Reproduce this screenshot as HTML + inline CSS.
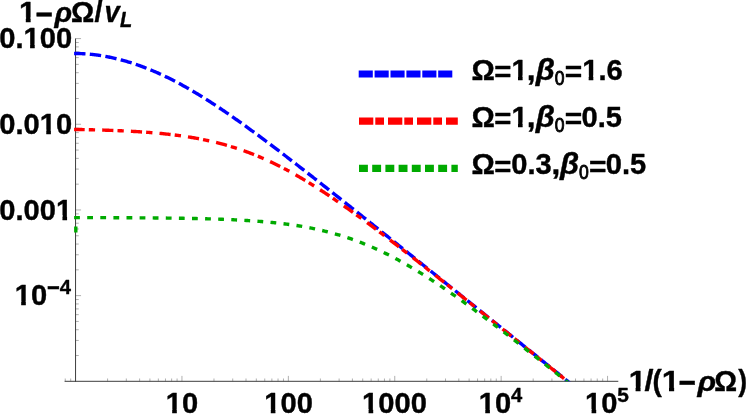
<!DOCTYPE html>
<html><head><meta charset="utf-8"><title>plot</title><style>html,body{margin:0;padding:0;background:#fff}body{width:747px;height:416px;overflow:hidden}</style></head><body>
<svg width="747" height="416" viewBox="0 0 747 416" style="display:block">
<rect width="747" height="416" fill="#fff"/>
<defs><clipPath id="pc"><rect x="60" y="30" width="560" height="351.30"/></clipPath></defs>
<g stroke="#7a7a7a" stroke-width="0.6" fill="none"><path d="M75.55 38.60 h5.50"/><path d="M75.55 124.28 h5.50"/><path d="M75.55 98.49 h3.20"/><path d="M75.55 83.40 h3.20"/><path d="M75.55 72.70 h3.20"/><path d="M75.55 64.39 h3.20"/><path d="M75.55 57.61 h3.20"/><path d="M75.55 51.87 h3.20"/><path d="M75.55 46.90 h3.20"/><path d="M75.55 42.52 h3.20"/><path d="M75.55 209.96 h5.50"/><path d="M75.55 184.17 h3.20"/><path d="M75.55 169.08 h3.20"/><path d="M75.55 158.38 h3.20"/><path d="M75.55 150.07 h3.20"/><path d="M75.55 143.29 h3.20"/><path d="M75.55 137.55 h3.20"/><path d="M75.55 132.58 h3.20"/><path d="M75.55 128.20 h3.20"/><path d="M75.55 295.64 h5.50"/><path d="M75.55 269.85 h3.20"/><path d="M75.55 254.76 h3.20"/><path d="M75.55 244.06 h3.20"/><path d="M75.55 235.75 h3.20"/><path d="M75.55 228.97 h3.20"/><path d="M75.55 223.23 h3.20"/><path d="M75.55 218.26 h3.20"/><path d="M75.55 213.88 h3.20"/><path d="M75.55 355.53 h3.20"/><path d="M75.55 340.44 h3.20"/><path d="M75.55 329.74 h3.20"/><path d="M75.55 321.43 h3.20"/><path d="M75.55 314.65 h3.20"/><path d="M75.55 308.91 h3.20"/><path d="M75.55 303.94 h3.20"/><path d="M75.55 299.56 h3.20"/><path d="M65.24 381.30 v-2.80"/><path d="M70.68 381.30 v-2.80"/><path d="M107.58 381.30 v-2.80"/><path d="M126.32 381.30 v-2.80"/><path d="M139.61 381.30 v-2.80"/><path d="M149.92 381.30 v-2.80"/><path d="M158.35 381.30 v-2.80"/><path d="M165.47 381.30 v-2.80"/><path d="M171.64 381.30 v-2.80"/><path d="M177.08 381.30 v-2.80"/><path d="M181.95 381.30 v-5.40"/><path d="M213.98 381.30 v-2.80"/><path d="M232.72 381.30 v-2.80"/><path d="M246.01 381.30 v-2.80"/><path d="M256.32 381.30 v-2.80"/><path d="M264.75 381.30 v-2.80"/><path d="M271.87 381.30 v-2.80"/><path d="M278.04 381.30 v-2.80"/><path d="M283.48 381.30 v-2.80"/><path d="M288.35 381.30 v-5.40"/><path d="M320.38 381.30 v-2.80"/><path d="M339.12 381.30 v-2.80"/><path d="M352.41 381.30 v-2.80"/><path d="M362.72 381.30 v-2.80"/><path d="M371.15 381.30 v-2.80"/><path d="M378.27 381.30 v-2.80"/><path d="M384.44 381.30 v-2.80"/><path d="M389.88 381.30 v-2.80"/><path d="M394.75 381.30 v-5.40"/><path d="M426.78 381.30 v-2.80"/><path d="M445.52 381.30 v-2.80"/><path d="M458.81 381.30 v-2.80"/><path d="M469.12 381.30 v-2.80"/><path d="M477.55 381.30 v-2.80"/><path d="M484.67 381.30 v-2.80"/><path d="M490.84 381.30 v-2.80"/><path d="M496.28 381.30 v-2.80"/><path d="M501.15 381.30 v-5.40"/><path d="M533.18 381.30 v-2.80"/><path d="M551.92 381.30 v-2.80"/><path d="M565.21 381.30 v-2.80"/><path d="M575.52 381.30 v-2.80"/><path d="M583.95 381.30 v-2.80"/><path d="M591.07 381.30 v-2.80"/><path d="M597.24 381.30 v-2.80"/><path d="M602.68 381.30 v-2.80"/><path d="M607.55 381.30 v-5.40"/></g>
<g stroke="#3d3d3d" stroke-width="1" fill="none"><path d="M75.55 38.50 V381.80"/><path d="M64.6 381.30 H618.3"/></g>
<g clip-path="url(#pc)" fill="none" stroke-linecap="square" stroke-width="3.40">
<path d="M75.80 53.49 L76.80 53.50 L77.80 53.51 L78.80 53.53 L79.80 53.56 L80.80 53.59 L81.79 53.63 L82.79 53.68 L83.79 53.73 L84.79 53.79 L85.79 53.86 L86.79 53.94 L87.79 54.02 L88.79 54.10 L89.79 54.20 L90.78 54.30 L91.78 54.40 L92.78 54.51 L93.78 54.63 L94.78 54.75 L95.78 54.88 L96.78 55.01 L97.78 55.15 L98.78 55.30 L99.78 55.45 L100.77 55.60 L101.77 55.76 L102.77 55.93 L103.77 56.10 L104.77 56.28 L105.77 56.46 L106.77 56.65 L107.77 56.84 L108.77 57.04 L109.77 57.25 L110.77 57.45 L111.76 57.67 L112.76 57.89 L113.76 58.11 L114.76 58.34 L115.76 58.58 L116.76 58.82 L117.76 59.06 L118.76 59.31 L119.76 59.56 L120.75 59.82 L121.75 60.09 L122.75 60.36 L123.75 60.63 L124.75 60.91 L125.75 61.20 L126.75 61.49 L127.75 61.79 L128.75 62.09 L129.75 62.39 L130.75 62.70 L131.74 63.02 L132.74 63.34 L133.74 63.66 L134.74 63.99 L135.74 64.33 L136.74 64.67 L137.74 65.01 L138.74 65.36 L139.74 65.72 L140.74 66.08 L141.73 66.44 L142.73 66.81 L143.73 67.19 L144.73 67.57 L145.73 67.95 L146.73 68.34 L147.73 68.73 L148.73 69.13 L149.73 69.54 L150.73 69.94 L151.72 70.36 L152.72 70.77 L153.72 71.20 L154.72 71.62 L155.72 72.06 L156.72 72.49 L157.72 72.93 L158.72 73.38 L159.72 73.83 L160.72 74.28 L161.71 74.74 L162.71 75.21 L163.71 75.68 L164.71 76.15 L165.71 76.63 L166.71 77.11 L167.71 77.59 L168.71 78.08 L169.71 78.58 L170.71 79.08 L171.70 79.58 L172.70 80.09 L173.70 80.60 L174.70 81.12 L175.70 81.64 L176.70 82.16 L177.70 82.69 L178.70 83.22 L179.70 83.76 L180.70 84.30 L181.69 84.84 L182.69 85.39 L183.69 85.94 L184.69 86.50 L185.69 87.06 L186.69 87.62 L187.69 88.19 L188.69 88.76 L189.69 89.33 L190.69 89.91 L191.68 90.49 L192.68 91.08 L193.68 91.67 L194.68 92.26 L195.68 92.86 L196.68 93.46 L197.68 94.06 L198.68 94.66 L199.68 95.27 L200.68 95.89 L201.67 96.50 L202.67 97.12 L203.67 97.74 L204.67 98.37 L205.67 98.99 L206.67 99.62 L207.67 100.26 L208.67 100.89 L209.67 101.53 L210.66 102.18 L211.66 102.82 L212.66 103.47 L213.66 104.12 L214.66 104.77 L215.66 105.43 L216.66 106.09 L217.66 106.75 L218.66 107.41 L219.66 108.08 L220.66 108.75 L221.65 109.42 L222.65 110.09 L223.65 110.77 L224.65 111.45 L225.65 112.13 L226.65 112.81 L227.65 113.50 L228.65 114.18 L229.65 114.87 L230.64 115.56 L231.64 116.26 L232.64 116.95 L233.64 117.65 L234.64 118.35 L235.64 119.05 L236.64 119.75 L237.64 120.46 L238.64 121.17 L239.64 121.88 L240.64 122.59 L241.63 123.30 L242.63 124.01 L243.63 124.73 L244.63 125.45 L245.63 126.17 L246.63 126.89 L247.63 127.61 L248.63 128.33 L249.63 129.06 L250.62 129.79 L251.62 130.52 L252.62 131.25 L253.62 131.98 L254.62 132.71 L255.62 133.45 L256.62 134.18 L257.62 134.92 L258.62 135.66 L259.62 136.40 L260.62 137.14 L261.61 137.88 L262.61 138.62 L263.61 139.37 L264.61 140.11 L265.61 140.86 L266.61 141.61 L267.61 142.36 L268.61 143.11 L269.61 143.86 L270.60 144.61 L271.60 145.36 L272.60 146.12 L273.60 146.87 L274.60 147.63 L275.60 148.39 L276.60 149.14 L277.60 149.90 L278.60 150.66 L279.60 151.42 L280.59 152.19 L281.59 152.95 L282.59 153.71 L283.59 154.48 L284.59 155.24 L285.59 156.01 L286.59 156.77 L287.59 157.54 L288.59 158.31 L289.59 159.08 L290.58 159.85 L291.58 160.62 L292.58 161.39 L293.58 162.16 L294.58 162.93 L295.58 163.70 L296.58 164.48 L297.58 165.25 L298.58 166.03 L299.58 166.80 L300.57 167.58 L301.57 168.35 L302.57 169.13 L303.57 169.91 L304.57 170.69 L305.57 171.47 L306.57 172.25 L307.57 173.03 L308.57 173.81 L309.57 174.59 L310.57 175.37 L311.56 176.15 L312.56 176.94 L313.56 177.72 L314.56 178.50 L315.56 179.29 L316.56 180.07 L317.56 180.85 L318.56 181.64 L319.56 182.42 L320.56 183.21 L321.55 184.00 L322.55 184.78 L323.55 185.57 L324.55 186.36 L325.55 187.15 L326.55 187.93 L327.55 188.72 L328.55 189.51 L329.55 190.30 L330.55 191.09 L331.54 191.88 L332.54 192.67 L333.54 193.46 L334.54 194.25 L335.54 195.04 L336.54 195.83 L337.54 196.62 L338.54 197.41 L339.54 198.20 L340.54 199.00 L341.53 199.79 L342.53 200.58 L343.53 201.37 L344.53 202.17 L345.53 202.96 L346.53 203.75 L347.53 204.55 L348.53 205.34 L349.53 206.14 L350.53 206.93 L351.52 207.72 L352.52 208.52 L353.52 209.31 L354.52 210.11 L355.52 210.90 L356.52 211.70 L357.52 212.49 L358.52 213.29 L359.52 214.09 L360.51 214.88 L361.51 215.68 L362.51 216.48 L363.51 217.27 L364.51 218.07 L365.51 218.87 L366.51 219.66 L367.51 220.46 L368.51 221.26 L369.51 222.05 L370.50 222.85 L371.50 223.65 L372.50 224.45 L373.50 225.25 L374.50 226.04 L375.50 226.84 L376.50 227.64 L377.50 228.44 L378.50 229.24 L379.50 230.04 L380.50 230.84 L381.49 231.63 L382.49 232.43 L383.49 233.23 L384.49 234.03 L385.49 234.83 L386.49 235.63 L387.49 236.43 L388.49 237.23 L389.49 238.03 L390.49 238.83 L391.48 239.63 L392.48 240.43 L393.48 241.23 L394.48 242.03 L395.48 242.83 L396.48 243.63 L397.48 244.43 L398.48 245.23 L399.48 246.03 L400.48 246.83 L401.47 247.63 L402.47 248.43 L403.47 249.23 L404.47 250.03 L405.47 250.83 L406.47 251.64 L407.47 252.44 L408.47 253.24 L409.47 254.04 L410.46 254.84 L411.46 255.64 L412.46 256.44 L413.46 257.24 L414.46 258.05 L415.46 258.85 L416.46 259.65 L417.46 260.45 L418.46 261.25 L419.46 262.05 L420.45 262.85 L421.45 263.66 L422.45 264.46 L423.45 265.26 L424.45 266.06 L425.45 266.86 L426.45 267.67 L427.45 268.47 L428.45 269.27 L429.45 270.07 L430.44 270.87 L431.44 271.68 L432.44 272.48 L433.44 273.28 L434.44 274.08 L435.44 274.88 L436.44 275.69 L437.44 276.49 L438.44 277.29 L439.44 278.09 L440.44 278.90 L441.43 279.70 L442.43 280.50 L443.43 281.30 L444.43 282.11 L445.43 282.91 L446.43 283.71 L447.43 284.51 L448.43 285.32 L449.43 286.12 L450.42 286.92 L451.42 287.73 L452.42 288.53 L453.42 289.33 L454.42 290.13 L455.42 290.94 L456.42 291.74 L457.42 292.54 L458.42 293.34 L459.42 294.15 L460.41 294.95 L461.41 295.75 L462.41 296.56 L463.41 297.36 L464.41 298.16 L465.41 298.97 L466.41 299.77 L467.41 300.57 L468.41 301.37 L469.41 302.18 L470.40 302.98 L471.40 303.78 L472.40 304.59 L473.40 305.39 L474.40 306.19 L475.40 307.00 L476.40 307.80 L477.40 308.60 L478.40 309.41 L479.40 310.21 L480.39 311.01 L481.39 311.82 L482.39 312.62 L483.39 313.42 L484.39 314.23 L485.39 315.03 L486.39 315.83 L487.39 316.64 L488.39 317.44 L489.39 318.24 L490.38 319.05 L491.38 319.85 L492.38 320.65 L493.38 321.46 L494.38 322.26 L495.38 323.06 L496.38 323.87 L497.38 324.67 L498.38 325.47 L499.38 326.28 L500.38 327.08 L501.37 327.88 L502.37 328.69 L503.37 329.49 L504.37 330.29 L505.37 331.10 L506.37 331.90 L507.37 332.70 L508.37 333.51 L509.37 334.31 L510.37 335.11 L511.36 335.92 L512.36 336.72 L513.36 337.52 L514.36 338.33 L515.36 339.13 L516.36 339.94 L517.36 340.74 L518.36 341.54 L519.36 342.35 L520.35 343.15 L521.35 343.95 L522.35 344.76 L523.35 345.56 L524.35 346.36 L525.35 347.17 L526.35 347.97 L527.35 348.77 L528.35 349.58 L529.35 350.38 L530.34 351.19 L531.34 351.99 L532.34 352.79 L533.34 353.60 L534.34 354.40 L535.34 355.20 L536.34 356.01 L537.34 356.81 L538.34 357.61 L539.34 358.42 L540.33 359.22 L541.33 360.03 L542.33 360.83 L543.33 361.63 L544.33 362.44 L545.33 363.24 L546.33 364.04 L547.33 364.85 L548.33 365.65 L549.33 366.45 L550.33 367.26 L551.32 368.06 L552.32 368.87 L553.32 369.67 L554.32 370.47 L555.32 371.28 L556.32 372.08 L557.32 372.88 L558.32 373.69 L559.32 374.49 L560.32 375.29 L561.31 376.10 L562.31 376.90 L563.31 377.71 L564.31 378.51 L565.31 379.31 L566.31 380.12 L567.31 380.92 L568.31 381.72 L569.31 382.53 L570.30 383.33 L571.30 384.14 L572.30 384.94 L573.30 385.74 L574.30 386.55 L575.30 387.35" stroke="#0000ff" stroke-dasharray="8.0 7.72"/>
<path d="M75.80 129.46 L76.80 129.47 L77.80 129.49 L78.80 129.51 L79.80 129.53 L80.80 129.55 L81.79 129.57 L82.79 129.59 L83.79 129.61 L84.79 129.64 L85.79 129.66 L86.79 129.68 L87.79 129.70 L88.79 129.73 L89.79 129.75 L90.78 129.77 L91.78 129.80 L92.78 129.82 L93.78 129.85 L94.78 129.88 L95.78 129.90 L96.78 129.93 L97.78 129.96 L98.78 129.98 L99.78 130.01 L100.77 130.04 L101.77 130.07 L102.77 130.10 L103.77 130.13 L104.77 130.17 L105.77 130.20 L106.77 130.23 L107.77 130.27 L108.77 130.30 L109.77 130.34 L110.77 130.37 L111.76 130.41 L112.76 130.45 L113.76 130.48 L114.76 130.52 L115.76 130.56 L116.76 130.60 L117.76 130.64 L118.76 130.69 L119.76 130.73 L120.75 130.77 L121.75 130.82 L122.75 130.86 L123.75 130.91 L124.75 130.96 L125.75 131.01 L126.75 131.06 L127.75 131.11 L128.75 131.16 L129.75 131.21 L130.75 131.26 L131.74 131.32 L132.74 131.37 L133.74 131.43 L134.74 131.49 L135.74 131.55 L136.74 131.61 L137.74 131.67 L138.74 131.73 L139.74 131.79 L140.74 131.86 L141.73 131.93 L142.73 131.99 L143.73 132.06 L144.73 132.13 L145.73 132.20 L146.73 132.28 L147.73 132.35 L148.73 132.43 L149.73 132.50 L150.73 132.58 L151.72 132.66 L152.72 132.75 L153.72 132.83 L154.72 132.91 L155.72 133.00 L156.72 133.09 L157.72 133.18 L158.72 133.27 L159.72 133.36 L160.72 133.46 L161.71 133.56 L162.71 133.66 L163.71 133.76 L164.71 133.86 L165.71 133.96 L166.71 134.07 L167.71 134.18 L168.71 134.29 L169.71 134.40 L170.71 134.52 L171.70 134.63 L172.70 134.75 L173.70 134.87 L174.70 134.99 L175.70 135.12 L176.70 135.25 L177.70 135.38 L178.70 135.51 L179.70 135.64 L180.70 135.78 L181.69 135.92 L182.69 136.06 L183.69 136.21 L184.69 136.35 L185.69 136.50 L186.69 136.65 L187.69 136.81 L188.69 136.97 L189.69 137.13 L190.69 137.29 L191.68 137.46 L192.68 137.62 L193.68 137.79 L194.68 137.97 L195.68 138.15 L196.68 138.33 L197.68 138.51 L198.68 138.69 L199.68 138.88 L200.68 139.08 L201.67 139.27 L202.67 139.47 L203.67 139.67 L204.67 139.88 L205.67 140.08 L206.67 140.30 L207.67 140.51 L208.67 140.73 L209.67 140.95 L210.66 141.17 L211.66 141.40 L212.66 141.63 L213.66 141.87 L214.66 142.11 L215.66 142.35 L216.66 142.60 L217.66 142.85 L218.66 143.10 L219.66 143.36 L220.66 143.62 L221.65 143.88 L222.65 144.15 L223.65 144.42 L224.65 144.70 L225.65 144.98 L226.65 145.26 L227.65 145.55 L228.65 145.84 L229.65 146.14 L230.64 146.44 L231.64 146.74 L232.64 147.05 L233.64 147.36 L234.64 147.67 L235.64 147.99 L236.64 148.32 L237.64 148.65 L238.64 148.98 L239.64 149.31 L240.64 149.65 L241.63 150.00 L242.63 150.35 L243.63 150.70 L244.63 151.06 L245.63 151.42 L246.63 151.78 L247.63 152.15 L248.63 152.53 L249.63 152.91 L250.62 153.29 L251.62 153.68 L252.62 154.07 L253.62 154.46 L254.62 154.86 L255.62 155.27 L256.62 155.67 L257.62 156.09 L258.62 156.50 L259.62 156.92 L260.62 157.35 L261.61 157.78 L262.61 158.21 L263.61 158.65 L264.61 159.09 L265.61 159.54 L266.61 159.99 L267.61 160.44 L268.61 160.90 L269.61 161.37 L270.60 161.83 L271.60 162.31 L272.60 162.78 L273.60 163.26 L274.60 163.75 L275.60 164.23 L276.60 164.73 L277.60 165.22 L278.60 165.72 L279.60 166.23 L280.59 166.73 L281.59 167.25 L282.59 167.76 L283.59 168.28 L284.59 168.80 L285.59 169.33 L286.59 169.86 L287.59 170.40 L288.59 170.94 L289.59 171.48 L290.58 172.03 L291.58 172.58 L292.58 173.13 L293.58 173.69 L294.58 174.25 L295.58 174.81 L296.58 175.38 L297.58 175.95 L298.58 176.53 L299.58 177.11 L300.57 177.69 L301.57 178.28 L302.57 178.88 L303.57 179.47 L304.57 180.07 L305.57 180.67 L306.57 181.28 L307.57 181.89 L308.57 182.50 L309.57 183.11 L310.57 183.73 L311.56 184.35 L312.56 184.98 L313.56 185.61 L314.56 186.24 L315.56 186.87 L316.56 187.51 L317.56 188.15 L318.56 188.79 L319.56 189.43 L320.56 190.08 L321.55 190.73 L322.55 191.38 L323.55 192.04 L324.55 192.69 L325.55 193.35 L326.55 194.02 L327.55 194.68 L328.55 195.35 L329.55 196.02 L330.55 196.69 L331.54 197.37 L332.54 198.05 L333.54 198.73 L334.54 199.41 L335.54 200.09 L336.54 200.78 L337.54 201.47 L338.54 202.16 L339.54 202.85 L340.54 203.55 L341.53 204.24 L342.53 204.94 L343.53 205.64 L344.53 206.35 L345.53 207.05 L346.53 207.76 L347.53 208.47 L348.53 209.18 L349.53 209.89 L350.53 210.60 L351.52 211.32 L352.52 212.04 L353.52 212.75 L354.52 213.47 L355.52 214.20 L356.52 214.92 L357.52 215.65 L358.52 216.37 L359.52 217.10 L360.51 217.83 L361.51 218.56 L362.51 219.30 L363.51 220.03 L364.51 220.77 L365.51 221.50 L366.51 222.24 L367.51 222.98 L368.51 223.72 L369.51 224.46 L370.50 225.21 L371.50 225.95 L372.50 226.70 L373.50 227.45 L374.50 228.19 L375.50 228.94 L376.50 229.70 L377.50 230.45 L378.50 231.20 L379.50 231.95 L380.50 232.71 L381.49 233.46 L382.49 234.22 L383.49 234.98 L384.49 235.74 L385.49 236.50 L386.49 237.26 L387.49 238.02 L388.49 238.78 L389.49 239.55 L390.49 240.31 L391.48 241.08 L392.48 241.84 L393.48 242.61 L394.48 243.38 L395.48 244.15 L396.48 244.92 L397.48 245.69 L398.48 246.46 L399.48 247.23 L400.48 248.00 L401.47 248.77 L402.47 249.55 L403.47 250.32 L404.47 251.10 L405.47 251.87 L406.47 252.65 L407.47 253.42 L408.47 254.20 L409.47 254.98 L410.46 255.76 L411.46 256.54 L412.46 257.32 L413.46 258.10 L414.46 258.88 L415.46 259.66 L416.46 260.44 L417.46 261.22 L418.46 262.01 L419.46 262.79 L420.45 263.57 L421.45 264.36 L422.45 265.14 L423.45 265.93 L424.45 266.71 L425.45 267.50 L426.45 268.29 L427.45 269.07 L428.45 269.86 L429.45 270.65 L430.44 271.44 L431.44 272.23 L432.44 273.02 L433.44 273.81 L434.44 274.59 L435.44 275.38 L436.44 276.18 L437.44 276.97 L438.44 277.76 L439.44 278.55 L440.44 279.34 L441.43 280.13 L442.43 280.92 L443.43 281.72 L444.43 282.51 L445.43 283.30 L446.43 284.10 L447.43 284.89 L448.43 285.69 L449.43 286.48 L450.42 287.27 L451.42 288.07 L452.42 288.86 L453.42 289.66 L454.42 290.46 L455.42 291.25 L456.42 292.05 L457.42 292.84 L458.42 293.64 L459.42 294.44 L460.41 295.23 L461.41 296.03 L462.41 296.83 L463.41 297.63 L464.41 298.42 L465.41 299.22 L466.41 300.02 L467.41 300.82 L468.41 301.62 L469.41 302.42 L470.40 303.21 L471.40 304.01 L472.40 304.81 L473.40 305.61 L474.40 306.41 L475.40 307.21 L476.40 308.01 L477.40 308.81 L478.40 309.61 L479.40 310.41 L480.39 311.21 L481.39 312.01 L482.39 312.81 L483.39 313.61 L484.39 314.42 L485.39 315.22 L486.39 316.02 L487.39 316.82 L488.39 317.62 L489.39 318.42 L490.38 319.22 L491.38 320.03 L492.38 320.83 L493.38 321.63 L494.38 322.43 L495.38 323.23 L496.38 324.04 L497.38 324.84 L498.38 325.64 L499.38 326.44 L500.38 327.25 L501.37 328.05 L502.37 328.85 L503.37 329.65 L504.37 330.46 L505.37 331.26 L506.37 332.06 L507.37 332.87 L508.37 333.67 L509.37 334.47 L510.37 335.28 L511.36 336.08 L512.36 336.88 L513.36 337.69 L514.36 338.49 L515.36 339.30 L516.36 340.10 L517.36 340.90 L518.36 341.71 L519.36 342.51 L520.35 343.32 L521.35 344.12 L522.35 344.93 L523.35 345.73 L524.35 346.53 L525.35 347.34 L526.35 348.14 L527.35 348.95 L528.35 349.75 L529.35 350.56 L530.34 351.36 L531.34 352.17 L532.34 352.97 L533.34 353.78 L534.34 354.58 L535.34 355.39 L536.34 356.19 L537.34 357.00 L538.34 357.80 L539.34 358.61 L540.33 359.41 L541.33 360.22 L542.33 361.02 L543.33 361.83 L544.33 362.63 L545.33 363.44 L546.33 364.24 L547.33 365.05 L548.33 365.85 L549.33 366.66 L550.33 367.46 L551.32 368.27 L552.32 369.08 L553.32 369.88 L554.32 370.69 L555.32 371.49 L556.32 372.30 L557.32 373.10 L558.32 373.91 L559.32 374.72 L560.32 375.52 L561.31 376.33 L562.31 377.13 L563.31 377.94 L564.31 378.74 L565.31 379.55 L566.31 380.36 L567.31 381.16 L568.31 381.97 L569.31 382.77 L570.30 383.58 L571.30 384.39 L572.30 385.19 L573.30 386.00 L574.30 386.81 L575.30 387.61" stroke="#ff0000" stroke-dasharray="7.8 7.5 2.9 10.5" stroke-dashoffset="0.6"/>
<path d="M75.80 230.68 L75.80 217.58 L76.80 217.58 L77.80 217.58 L78.80 217.58 L79.80 217.58 L80.80 217.59 L81.79 217.59 L82.79 217.59 L83.79 217.59 L84.79 217.60 L85.79 217.60 L86.79 217.60 L87.79 217.60 L88.79 217.60 L89.79 217.61 L90.78 217.61 L91.78 217.61 L92.78 217.61 L93.78 217.62 L94.78 217.62 L95.78 217.62 L96.78 217.63 L97.78 217.63 L98.78 217.63 L99.78 217.63 L100.77 217.64 L101.77 217.64 L102.77 217.64 L103.77 217.65 L104.77 217.65 L105.77 217.65 L106.77 217.66 L107.77 217.66 L108.77 217.66 L109.77 217.67 L110.77 217.67 L111.76 217.67 L112.76 217.68 L113.76 217.68 L114.76 217.69 L115.76 217.69 L116.76 217.69 L117.76 217.70 L118.76 217.70 L119.76 217.71 L120.75 217.71 L121.75 217.72 L122.75 217.72 L123.75 217.73 L124.75 217.73 L125.75 217.74 L126.75 217.74 L127.75 217.75 L128.75 217.75 L129.75 217.76 L130.75 217.76 L131.74 217.77 L132.74 217.77 L133.74 217.78 L134.74 217.79 L135.74 217.79 L136.74 217.80 L137.74 217.81 L138.74 217.81 L139.74 217.82 L140.74 217.83 L141.73 217.83 L142.73 217.84 L143.73 217.85 L144.73 217.85 L145.73 217.86 L146.73 217.87 L147.73 217.88 L148.73 217.89 L149.73 217.89 L150.73 217.90 L151.72 217.91 L152.72 217.92 L153.72 217.93 L154.72 217.94 L155.72 217.95 L156.72 217.96 L157.72 217.97 L158.72 217.98 L159.72 217.99 L160.72 218.00 L161.71 218.01 L162.71 218.02 L163.71 218.03 L164.71 218.04 L165.71 218.05 L166.71 218.07 L167.71 218.08 L168.71 218.09 L169.71 218.10 L170.71 218.12 L171.70 218.13 L172.70 218.14 L173.70 218.16 L174.70 218.17 L175.70 218.18 L176.70 218.20 L177.70 218.21 L178.70 218.23 L179.70 218.24 L180.70 218.26 L181.69 218.28 L182.69 218.29 L183.69 218.31 L184.69 218.33 L185.69 218.34 L186.69 218.36 L187.69 218.38 L188.69 218.40 L189.69 218.42 L190.69 218.44 L191.68 218.46 L192.68 218.48 L193.68 218.50 L194.68 218.52 L195.68 218.54 L196.68 218.56 L197.68 218.59 L198.68 218.61 L199.68 218.63 L200.68 218.66 L201.67 218.68 L202.67 218.70 L203.67 218.73 L204.67 218.76 L205.67 218.78 L206.67 218.81 L207.67 218.84 L208.67 218.87 L209.67 218.89 L210.66 218.92 L211.66 218.95 L212.66 218.98 L213.66 219.01 L214.66 219.05 L215.66 219.08 L216.66 219.11 L217.66 219.15 L218.66 219.18 L219.66 219.22 L220.66 219.25 L221.65 219.29 L222.65 219.33 L223.65 219.36 L224.65 219.40 L225.65 219.44 L226.65 219.48 L227.65 219.52 L228.65 219.57 L229.65 219.61 L230.64 219.65 L231.64 219.70 L232.64 219.74 L233.64 219.79 L234.64 219.84 L235.64 219.89 L236.64 219.94 L237.64 219.99 L238.64 220.04 L239.64 220.09 L240.64 220.14 L241.63 220.20 L242.63 220.25 L243.63 220.31 L244.63 220.37 L245.63 220.43 L246.63 220.49 L247.63 220.55 L248.63 220.61 L249.63 220.67 L250.62 220.74 L251.62 220.81 L252.62 220.87 L253.62 220.94 L254.62 221.01 L255.62 221.09 L256.62 221.16 L257.62 221.23 L258.62 221.31 L259.62 221.39 L260.62 221.46 L261.61 221.55 L262.61 221.63 L263.61 221.71 L264.61 221.80 L265.61 221.88 L266.61 221.97 L267.61 222.06 L268.61 222.15 L269.61 222.25 L270.60 222.34 L271.60 222.44 L272.60 222.54 L273.60 222.64 L274.60 222.74 L275.60 222.85 L276.60 222.95 L277.60 223.06 L278.60 223.17 L279.60 223.28 L280.59 223.40 L281.59 223.51 L282.59 223.63 L283.59 223.75 L284.59 223.88 L285.59 224.00 L286.59 224.13 L287.59 224.26 L288.59 224.39 L289.59 224.53 L290.58 224.66 L291.58 224.80 L292.58 224.94 L293.58 225.09 L294.58 225.24 L295.58 225.39 L296.58 225.54 L297.58 225.69 L298.58 225.85 L299.58 226.01 L300.57 226.17 L301.57 226.34 L302.57 226.52 L303.57 226.69 L304.57 226.87 L305.57 227.05 L306.57 227.23 L307.57 227.42 L308.57 227.61 L309.57 227.80 L310.57 228.00 L311.56 228.20 L312.56 228.40 L313.56 228.61 L314.56 228.81 L315.56 229.03 L316.56 229.24 L317.56 229.46 L318.56 229.68 L319.56 229.91 L320.56 230.13 L321.55 230.37 L322.55 230.60 L323.55 230.84 L324.55 231.08 L325.55 231.33 L326.55 231.58 L327.55 231.83 L328.55 232.09 L329.55 232.35 L330.55 232.61 L331.54 232.88 L332.54 233.15 L333.54 233.43 L334.54 233.71 L335.54 233.99 L336.54 234.28 L337.54 234.57 L338.54 234.86 L339.54 235.16 L340.54 235.47 L341.53 235.77 L342.53 236.08 L343.53 236.40 L344.53 236.72 L345.53 237.04 L346.53 237.37 L347.53 237.70 L348.53 238.03 L349.53 238.37 L350.53 238.72 L351.52 239.06 L352.52 239.41 L353.52 239.77 L354.52 240.13 L355.52 240.49 L356.52 240.86 L357.52 241.24 L358.52 241.61 L359.52 241.99 L360.51 242.38 L361.51 242.77 L362.51 243.16 L363.51 243.56 L364.51 243.96 L365.51 244.37 L366.51 244.78 L367.51 245.20 L368.51 245.62 L369.51 246.04 L370.50 246.47 L371.50 246.90 L372.50 247.33 L373.50 247.78 L374.50 248.22 L375.50 248.67 L376.50 249.12 L377.50 249.58 L378.50 250.04 L379.50 250.51 L380.50 250.98 L381.49 251.45 L382.49 251.93 L383.49 252.41 L384.49 252.90 L385.49 253.39 L386.49 253.88 L387.49 254.38 L388.49 254.88 L389.49 255.39 L390.49 255.90 L391.48 256.41 L392.48 256.93 L393.48 257.45 L394.48 257.98 L395.48 258.51 L396.48 259.04 L397.48 259.58 L398.48 260.12 L399.48 260.67 L400.48 261.22 L401.47 261.77 L402.47 262.32 L403.47 262.88 L404.47 263.45 L405.47 264.01 L406.47 264.58 L407.47 265.16 L408.47 265.74 L409.47 266.32 L410.46 266.90 L411.46 267.49 L412.46 268.08 L413.46 268.67 L414.46 269.27 L415.46 269.87 L416.46 270.48 L417.46 271.09 L418.46 271.70 L419.46 272.31 L420.45 272.93 L421.45 273.55 L422.45 274.17 L423.45 274.80 L424.45 275.42 L425.45 276.06 L426.45 276.69 L427.45 277.33 L428.45 277.97 L429.45 278.61 L430.44 279.26 L431.44 279.91 L432.44 280.56 L433.44 281.21 L434.44 281.87 L435.44 282.53 L436.44 283.19 L437.44 283.85 L438.44 284.52 L439.44 285.19 L440.44 285.86 L441.43 286.53 L442.43 287.21 L443.43 287.89 L444.43 288.57 L445.43 289.25 L446.43 289.94 L447.43 290.62 L448.43 291.31 L449.43 292.00 L450.42 292.70 L451.42 293.39 L452.42 294.09 L453.42 294.79 L454.42 295.49 L455.42 296.20 L456.42 296.90 L457.42 297.61 L458.42 298.32 L459.42 299.03 L460.41 299.74 L461.41 300.46 L462.41 301.17 L463.41 301.89 L464.41 302.61 L465.41 303.33 L466.41 304.06 L467.41 304.78 L468.41 305.51 L469.41 306.23 L470.40 306.96 L471.40 307.69 L472.40 308.43 L473.40 309.16 L474.40 309.89 L475.40 310.63 L476.40 311.37 L477.40 312.11 L478.40 312.85 L479.40 313.59 L480.39 314.33 L481.39 315.08 L482.39 315.82 L483.39 316.57 L484.39 317.31 L485.39 318.06 L486.39 318.81 L487.39 319.56 L488.39 320.32 L489.39 321.07 L490.38 321.82 L491.38 322.58 L492.38 323.34 L493.38 324.09 L494.38 324.85 L495.38 325.61 L496.38 326.37 L497.38 327.13 L498.38 327.90 L499.38 328.66 L500.38 329.42 L501.37 330.19 L502.37 330.95 L503.37 331.72 L504.37 332.49 L505.37 333.25 L506.37 334.02 L507.37 334.79 L508.37 335.56 L509.37 336.33 L510.37 337.11 L511.36 337.88 L512.36 338.65 L513.36 339.43 L514.36 340.20 L515.36 340.98 L516.36 341.75 L517.36 342.53 L518.36 343.30 L519.36 344.08 L520.35 344.86 L521.35 345.64 L522.35 346.42 L523.35 347.20 L524.35 347.98 L525.35 348.76 L526.35 349.54 L527.35 350.33 L528.35 351.11 L529.35 351.89 L530.34 352.67 L531.34 353.46 L532.34 354.24 L533.34 355.03 L534.34 355.81 L535.34 356.60 L536.34 357.39 L537.34 358.17 L538.34 358.96 L539.34 359.75 L540.33 360.54 L541.33 361.33 L542.33 362.11 L543.33 362.90 L544.33 363.69 L545.33 364.48 L546.33 365.27 L547.33 366.06 L548.33 366.86 L549.33 367.65 L550.33 368.44 L551.32 369.23 L552.32 370.02 L553.32 370.82 L554.32 371.61 L555.32 372.40 L556.32 373.20 L557.32 373.99 L558.32 374.78 L559.32 375.58 L560.32 376.37 L561.31 377.17 L562.31 377.96 L563.31 378.76 L564.31 379.55 L565.31 380.35 L566.31 381.15 L567.31 381.94 L568.31 382.74 L569.31 383.54 L570.30 384.33 L571.30 385.13 L572.30 385.93 L573.30 386.73 L574.30 387.52 L575.30 388.32" stroke="#00aa00" stroke-dasharray="2.4 10.7"/>
</g>
<g fill="none" stroke-width="7.2">
<path d="M358.7 74 H452.4" stroke="#0000ff" stroke-dasharray="14.1 1.8"/>
<path d="M359 121.2 H457.8" stroke="#ff0000" stroke-dasharray="14.3 2 8.7 4"/>
<path d="M359 168.4 H457.8" stroke="#00aa00" stroke-dasharray="8.9 4.3"/>
</g>
<defs><clipPath id="c1"><rect x="-2" y="-24" width="22" height="19.730"/><rect x="6.492" y="-24" width="4.593" height="26"/></clipPath></defs>
<g font-family="'Liberation Sans', sans-serif" fill="#000" stroke="#000" stroke-width="0.4" stroke-linejoin="round" style="opacity:0.999">
<text transform="matrix(1.0000 0 0 1.0300 -0.65 48.20)" font-size="29.10" font-weight="bold">0</text>
<text transform="matrix(1.0000 0 0 1.0300 15.53 48.20)" font-size="29.10" font-weight="bold">.</text>
<text transform="matrix(1.0000 0 0 1.0300 23.62 48.20)" font-size="29.10" font-weight="bold" clip-path="url(#c1)">1</text>
<text transform="matrix(1.0000 0 0 1.0300 39.80 48.20)" font-size="29.10" font-weight="bold">0</text>
<text transform="matrix(1.0000 0 0 1.0300 55.99 48.20)" font-size="29.10" font-weight="bold">0</text>
<text transform="matrix(1.0000 0 0 1.0300 -0.65 134.00)" font-size="29.10" font-weight="bold">0</text>
<text transform="matrix(1.0000 0 0 1.0300 15.53 134.00)" font-size="29.10" font-weight="bold">.</text>
<text transform="matrix(1.0000 0 0 1.0300 23.62 134.00)" font-size="29.10" font-weight="bold">0</text>
<text transform="matrix(1.0000 0 0 1.0300 39.80 134.00)" font-size="29.10" font-weight="bold" clip-path="url(#c1)">1</text>
<text transform="matrix(1.0000 0 0 1.0300 55.99 134.00)" font-size="29.10" font-weight="bold">0</text>
<text transform="matrix(1.0000 0 0 1.0300 -0.65 219.50)" font-size="29.10" font-weight="bold">0</text>
<text transform="matrix(1.0000 0 0 1.0300 15.53 219.50)" font-size="29.10" font-weight="bold">.</text>
<text transform="matrix(1.0000 0 0 1.0300 23.62 219.50)" font-size="29.10" font-weight="bold">0</text>
<text transform="matrix(1.0000 0 0 1.0300 39.80 219.50)" font-size="29.10" font-weight="bold">0</text>
<text transform="matrix(1.0000 0 0 1.0300 55.99 219.50)" font-size="29.10" font-weight="bold" clip-path="url(#c1)">1</text>
<text transform="matrix(1.0000 0 0 1.0300 14.71 305.40)" font-size="29.10" font-weight="bold" clip-path="url(#c1)">1</text>
<text transform="matrix(1.0000 0 0 1.0300 30.89 305.40)" font-size="29.10" font-weight="bold">0</text>
<text transform="matrix(1.0968 0 0 1.2343 47.09 295.96)" font-size="20.00" font-weight="bold">−</text>
<text transform="matrix(1.0081 0 0 1.0247 59.69 293.60)" font-size="20.00" font-weight="bold">4</text>
<text transform="matrix(1.0000 0 0 1.0300 165.71 413.35)" font-size="29.10" font-weight="bold" clip-path="url(#c1)">1</text>
<text transform="matrix(1.0000 0 0 1.0300 181.89 413.35)" font-size="29.10" font-weight="bold">0</text>
<text transform="matrix(1.0000 0 0 1.0300 264.31 413.35)" font-size="29.10" font-weight="bold" clip-path="url(#c1)">1</text>
<text transform="matrix(1.0000 0 0 1.0300 280.49 413.35)" font-size="29.10" font-weight="bold">0</text>
<text transform="matrix(1.0000 0 0 1.0300 296.68 413.35)" font-size="29.10" font-weight="bold">0</text>
<text transform="matrix(1.0000 0 0 1.0300 362.11 413.35)" font-size="29.10" font-weight="bold" clip-path="url(#c1)">1</text>
<text transform="matrix(1.0000 0 0 1.0300 378.29 413.35)" font-size="29.10" font-weight="bold">0</text>
<text transform="matrix(1.0000 0 0 1.0300 394.48 413.35)" font-size="29.10" font-weight="bold">0</text>
<text transform="matrix(1.0000 0 0 1.0300 410.66 413.35)" font-size="29.10" font-weight="bold">0</text>
<text transform="matrix(1.0000 0 0 1.0300 478.81 413.35)" font-size="29.10" font-weight="bold" clip-path="url(#c1)">1</text>
<text transform="matrix(1.0000 0 0 1.0300 494.99 413.35)" font-size="29.10" font-weight="bold">0</text>
<text transform="matrix(1.0081 0 0 1.0393 510.89 402.00)" font-size="20.00" font-weight="bold">4</text>
<text transform="matrix(1.0000 0 0 1.0300 585.11 413.35)" font-size="29.10" font-weight="bold" clip-path="url(#c1)">1</text>
<text transform="matrix(1.0000 0 0 1.0300 601.29 413.35)" font-size="29.10" font-weight="bold">0</text>
<text transform="matrix(1.0451 0 0 1.0393 617.36 402.30)" font-size="20.00" font-weight="bold">5</text>
<text transform="matrix(1.0460 0 0 1.0289 19.02 21.70)" font-size="29.10" font-weight="bold" clip-path="url(#c1)">1</text>
<text transform="matrix(1.0279 0 0 1.0839 35.46 24.86)" font-size="29.10" font-weight="bold">−</text>
<text transform="matrix(0.9947 0 0 0.9379 54.56 21.70)" font-size="29.10" font-weight="bold" font-style="italic">ρ</text>
<text transform="matrix(0.9965 0 0 1.0237 71.02 21.70)" font-size="29.10" font-weight="bold">Ω</text>
<text transform="matrix(0.9978 0 0 0.9864 94.42 21.70)" font-size="29.10" font-weight="bold">/</text>
<text transform="matrix(0.9409 0 0 0.9952 104.53 21.70)" font-size="29.10" font-weight="bold" font-style="italic">v</text>
<text transform="matrix(1.0006 0 0 1.0574 119.95 27.20)" font-size="20.00" font-weight="bold" font-style="italic">L</text>
<text transform="matrix(1.0687 0 0 1.0314 628.67 390.90)" font-size="29.10" font-weight="bold" clip-path="url(#c1)">1</text>
<text transform="matrix(1.1109 0 0 0.9912 644.43 390.90)" font-size="29.10" font-weight="bold">/</text>
<text transform="matrix(0.9619 0 0 1.0007 652.51 390.90)" font-size="29.10" font-weight="bold">(</text>
<text transform="matrix(1.1142 0 0 1.0314 661.78 390.90)" font-size="29.10" font-weight="bold" clip-path="url(#c1)">1</text>
<text transform="matrix(1.0211 0 0 1.1625 678.67 394.40)" font-size="29.10" font-weight="bold">−</text>
<text transform="matrix(1.0522 0 0 0.9699 697.40 390.90)" font-size="29.10" font-weight="bold" font-style="italic">ρ</text>
<text transform="matrix(0.9775 0 0 1.0286 714.15 390.90)" font-size="29.10" font-weight="bold">Ω</text>
<text transform="matrix(0.9071 0 0 1.0007 738.27 390.90)" font-size="29.10" font-weight="bold">)</text>
<text transform="matrix(1.0013 0 0 1.0286 471.42 79.80)" font-size="29.10" font-weight="bold">Ω</text>
<text transform="matrix(1.0074 0 0 0.9366 494.28 81.17)" font-size="29.10" font-weight="bold">=</text>
<text transform="matrix(1.0000 0 0 1.0300 511.51 79.80)" font-size="29.10" font-weight="bold" clip-path="url(#c1)">1</text>
<text transform="matrix(1.0809 0 0 1.0300 526.67 79.80)" font-size="29.10" font-weight="bold">,</text>
<text transform="matrix(1.0554 0 0 0.9864 535.76 79.80)" font-size="29.10" font-weight="bold" font-style="italic">β</text>
<text transform="matrix(0.8786 0 0 1.0168 554.71 85.00)" font-size="20.00" font-weight="normal" stroke-width="0.9">0</text>
<text transform="matrix(1.0279 0 0 0.9366 564.66 81.17)" font-size="29.10" font-weight="bold">=</text>
<text transform="matrix(1.0000 0 0 1.0300 582.21 79.80)" font-size="29.10" font-weight="bold" clip-path="url(#c1)">1</text>
<text transform="matrix(1.0000 0 0 1.0300 598.39 79.80)" font-size="29.10" font-weight="bold">.</text>
<text transform="matrix(1.0000 0 0 1.0300 606.48 79.80)" font-size="29.10" font-weight="bold">6</text>
<text transform="matrix(1.0013 0 0 1.0286 471.42 127.00)" font-size="29.10" font-weight="bold">Ω</text>
<text transform="matrix(1.0074 0 0 0.9366 494.28 128.37)" font-size="29.10" font-weight="bold">=</text>
<text transform="matrix(1.0000 0 0 1.0300 511.51 127.00)" font-size="29.10" font-weight="bold" clip-path="url(#c1)">1</text>
<text transform="matrix(1.0809 0 0 1.0300 526.67 127.00)" font-size="29.10" font-weight="bold">,</text>
<text transform="matrix(1.0554 0 0 0.9864 535.76 127.00)" font-size="29.10" font-weight="bold" font-style="italic">β</text>
<text transform="matrix(0.8786 0 0 1.0168 554.71 132.20)" font-size="20.00" font-weight="normal" stroke-width="0.9">0</text>
<text transform="matrix(1.0279 0 0 0.9366 564.66 128.37)" font-size="29.10" font-weight="bold">=</text>
<text transform="matrix(1.0000 0 0 1.0300 581.45 127.00)" font-size="29.10" font-weight="bold">0</text>
<text transform="matrix(1.0000 0 0 1.0300 597.63 127.00)" font-size="29.10" font-weight="bold">.</text>
<text transform="matrix(1.0000 0 0 1.0300 605.72 127.00)" font-size="29.10" font-weight="bold">5</text>
<text transform="matrix(1.0013 0 0 1.0286 471.42 174.20)" font-size="29.10" font-weight="bold">Ω</text>
<text transform="matrix(1.0074 0 0 0.9366 494.28 175.57)" font-size="29.10" font-weight="bold">=</text>
<text transform="matrix(1.0000 0 0 1.0300 511.25 174.20)" font-size="29.10" font-weight="bold">0</text>
<text transform="matrix(1.0000 0 0 1.0300 527.43 174.20)" font-size="29.10" font-weight="bold">.</text>
<text transform="matrix(1.0000 0 0 1.0300 535.52 174.20)" font-size="29.10" font-weight="bold">3</text>
<text transform="matrix(1.0809 0 0 1.0300 551.57 174.20)" font-size="29.10" font-weight="bold">,</text>
<text transform="matrix(1.0554 0 0 0.9864 560.06 174.20)" font-size="29.10" font-weight="bold" font-style="italic">β</text>
<text transform="matrix(0.8786 0 0 1.0168 579.01 179.40)" font-size="20.00" font-weight="normal" stroke-width="0.9">0</text>
<text transform="matrix(1.0279 0 0 0.9366 588.96 175.57)" font-size="29.10" font-weight="bold">=</text>
<text transform="matrix(1.0000 0 0 1.0300 605.75 174.20)" font-size="29.10" font-weight="bold">0</text>
<text transform="matrix(1.0000 0 0 1.0300 621.93 174.20)" font-size="29.10" font-weight="bold">.</text>
<text transform="matrix(1.0000 0 0 1.0300 630.02 174.20)" font-size="29.10" font-weight="bold">5</text>
</g>
</svg>
</body></html>
